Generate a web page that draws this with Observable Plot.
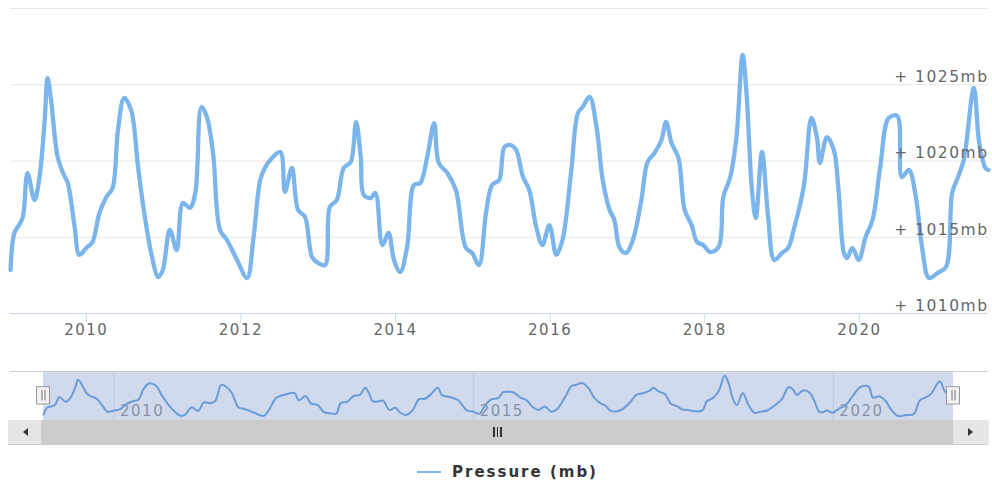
<!DOCTYPE html>
<html><head><meta charset="utf-8">
<script src="https://cdn.jsdelivr.net/npm/d3@7"></script>
<script src="https://cdn.jsdelivr.net/npm/@observablehq/plot@0.6"></script>
<style>
html,body{margin:0;padding:0;background:#fff;}
#wrap{position:relative;width:992px;height:486px;font-family:"DejaVu Sans",sans-serif;overflow:hidden;background:#fff}
#main{position:absolute;left:0;top:0}
#nav{position:absolute;left:0;top:360px}
.abs{position:absolute}
#navtop{left:10px;top:371px;width:978px;height:1px;background:#cccccc}
#sb{left:8px;top:420px;width:980px;height:24px;border-bottom:1px solid #cccccc;background:#f2f2f2}
#btnL{left:8px;top:420px;width:33px;height:24px;background:#e6e6e6;border-right:1px solid #cccccc}
#btnR{left:952px;top:420px;width:36px;height:24px;background:#e6e6e6;border-left:1px solid #cccccc}
#thumb{left:42px;top:420px;width:910px;height:24px;background:#cccccc}
.arrL{width:0;height:0;border-top:4px solid transparent;border-bottom:4px solid transparent;border-right:5px solid #333}
.arrR{width:0;height:0;border-top:4px solid transparent;border-bottom:4px solid transparent;border-left:5px solid #333}
.grip{width:1.5px;height:10px;background:#333;top:427px}
#legend{left:417px;top:461px;height:22px;display:flex;align-items:center;font-family:"DejaVu Sans",sans-serif}
#legend .sym{width:24px;height:2.5px;background:#7cb5ec;margin-right:11px}
#legend .lab{font-weight:bold;font-size:15px;letter-spacing:2px;color:#333}
</style></head>
<body><div id="wrap">
<div id="main"></div>
<div class="abs" id="sb"></div>
<div class="abs" id="thumb"></div>
<div class="abs" id="btnL"></div>
<div class="abs" id="btnR"></div>
<div class="abs arrL" style="left:23px;top:428px"></div>
<div class="abs arrR" style="left:968px;top:428px"></div>
<div class="abs grip" style="left:493px"></div>
<div class="abs grip" style="left:496.5px"></div>
<div class="abs grip" style="left:500px"></div>
<div class="abs" id="navtop"></div>
<div id="nav"></div>
<div class="abs" id="legend"><div class="sym"></div><div class="lab">Pressure (mb)</div></div>
</div>
<script>
const years = [
2009.02,2009.07,2009.13,2009.18,2009.24,2009.33,2009.39,2009.46,2009.50,2009.54,
2009.63,2009.70,2009.76,2009.85,2009.91,2010.00,2010.08,2010.17,2010.26,2010.34,
2010.41,2010.49,2010.58,2010.67,2010.75,2010.84,2010.93,2010.99,2011.08,2011.17,
2011.25,2011.34,2011.41,2011.49,2011.56,2011.64,2011.73,2011.82,2011.95,2012.08,
2012.16,2012.25,2012.31,2012.38,2012.51,2012.57,2012.66,2012.74,2012.83,2012.92,
2013.00,2013.09,2013.15,2013.24,2013.33,2013.42,2013.49,2013.55,2013.59,2013.68,
2013.74,2013.83,2013.91,2013.98,2014.06,2014.15,2014.24,2014.32,2014.41,2014.50,
2014.56,2014.67,2014.78,2014.91,2014.99,2015.08,2015.17,2015.25,2015.34,2015.41,
2015.49,2015.56,2015.65,2015.73,2015.82,2015.90,2015.99,2016.08,2016.16,2016.27,
2016.36,2016.42,2016.51,2016.60,2016.68,2016.77,2016.83,2016.90,2016.98,2017.07,
2017.18,2017.26,2017.35,2017.44,2017.50,2017.57,2017.66,2017.74,2017.83,2017.90,
2017.98,2018.07,2018.18,2018.24,2018.33,2018.41,2018.49,2018.54,2018.61,2018.66,
2018.74,2018.82,2018.90,2019.00,2019.08,2019.15,2019.28,2019.38,2019.45,2019.49,
2019.58,2019.67,2019.73,2019.80,2019.84,2019.91,2019.99,2020.08,2020.17,2020.27,
2020.38,2020.49,2020.55,2020.64,2020.73,2020.81,2020.90,2021.01,2021.12,2021.20,
2021.27,2021.35,2021.48,2021.55,2021.63,2021.67];
const pressure = [
1012.85,1015.28,1015.8,1016.33,1019.21,1017.44,1018.75,1022.49,1025.44,1024.2,
1020.26,1019.21,1018.56,1015.67,1013.84,1014.3,1014.69,1016.59,1017.64,1018.23,
1022.03,1024.13,1023.34,1019.61,1016.59,1013.97,1012.39,1012.85,1015.48,1014.16,
1017.25,1016.92,1017.9,1023.54,1022.89,1020.52,1015.48,1014.82,1013.51,1012.33,
1014.82,1018.75,1019.54,1020.07,1020.59,1017.97,1019.54,1016.79,1016.33,1013.7,
1013.31,1013.18,1016.98,1017.44,1019.54,1019.93,1022.56,1020.26,1017.77,1017.57,
1017.9,1014.49,1015.28,1013.51,1012.72,1014.36,1018.43,1018.56,1020.26,1022.49,
1019.87,1019.21,1018.1,1014.3,1013.97,1013.18,1016.59,1018.43,1018.75,1020.92,
1021.05,1020.72,1018.95,1018.1,1015.67,1014.49,1015.8,1013.84,1014.82,1019.21,
1023.15,1023.54,1024.2,1022.23,1018.75,1016.79,1016.13,1014.3,1013.97,1014.82,
1017.44,1019.93,1020.52,1021.38,1022.56,1021.18,1020.2,1016.79,1015.8,1014.69,
1014.49,1014.03,1014.36,1017.64,1018.95,1021.57,1026.95,1024.46,1018.1,1016.26,
1020.59,1016.33,1013.51,1013.97,1014.3,1015.48,1018.3,1022.82,1021.57,1019.87,
1021.57,1020.72,1018.1,1013.97,1013.64,1014.3,1013.51,1015.02,1016.13,1019.61,
1022.82,1022.95,1018.95,1019.41,1017.64,1014.36,1012.33,1012.66,1013.05,1017.9,
1018.89,1020.07,1024.79,1021.18,1019.54,1019.41];
const xTicks = [2010, 2012, 2014, 2016, 2018, 2020];
const yLabels = [1010, 1015, 1020, 1025];
const yGrid = [1015, 1020, 1025, 1030];
const yDomain = [1010, 1030];
const navTicks = [2010, 2015, 2020];
const seriesName = "Pressure (mb)";

const data = years.map((t, i) => ({t, v: pressure[i]}));
const xDomain = d3.extent(years);
const lineColor = "#7cb5ec";

const main = Plot.plot({
  width: 992, height: 345,
  marginLeft: 10, marginRight: 4, marginTop: 8, marginBottom: 32,
  x: {domain: xDomain, axis: null},
  y: {domain: yDomain, axis: null},
  style: {fontFamily: "DejaVu Sans, sans-serif", fontSize: "15px", letterSpacing: "1.5px", background: "transparent", overflow: "visible"},
  marks: [
    Plot.gridY(yGrid, {stroke: "#e6e6e6", strokeOpacity: 1}),
    Plot.ruleY([yDomain[0]], {stroke: "#ccd6eb"}),
    Plot.axisX({ticks: xTicks, tickFormat: d => String(d), tickSize: 10, tickPadding: 1, stroke: "#ccd6eb", fill: "#666", fontSize: 15, label: null}),
    Plot.line(data, {x: "t", y: "v", stroke: lineColor, strokeWidth: 4.3, curve: "catmull-rom"}),
    Plot.text(yLabels, {y: d => d, text: d => `+ ${d}mb`, frameAnchor: "right", textAnchor: "end", dy: -7.5, fill: "#666", fontSize: 15.5})
  ]
});
document.getElementById("main").appendChild(main);

const nav = Plot.plot({
  width: 992, height: 62,
  marginLeft: 43, marginRight: 39, marginTop: 15, marginBottom: 6.5,
  x: {domain: xDomain, axis: null},
  y: {domain: d3.extent(pressure), axis: null},
  style: {fontFamily: "DejaVu Sans, sans-serif", fontSize: "15px", letterSpacing: "1.5px", background: "transparent", overflow: "visible"},
  marks: [
    Plot.ruleX(navTicks, {stroke: "#e6e6e6", insetTop: -3, insetBottom: -4.5}),
    Plot.text(navTicks, {x: d => d, text: d => String(d), frameAnchor: "bottom", textAnchor: "start", lineAnchor: "bottom", dx: 6, fill: "#999", fontSize: 15}),
    Plot.line(data, {x: "t", y: "v", stroke: "#6aa6e4", strokeWidth: 2, curve: "catmull-rom"}),
    Plot.rect([xDomain], {x1: d => d[0], x2: d => d[1], fill: "rgb(102,133,194)", fillOpacity: 0.3, insetTop: -3, insetBottom: -4.5}),
    Plot.rect(xDomain, {x1: d => d, x2: d => d, insetLeft: -6.5, insetRight: -6.5, insetTop: 11.7, insetBottom: 11.5, fill: "#f2f2f2", stroke: "#999"}),
    Plot.ruleX(xDomain, {x: d => d, dx: -1.5, insetTop: 15, insetBottom: 15, stroke: "#777"}),
    Plot.ruleX(xDomain, {x: d => d, dx: 1.5, insetTop: 15, insetBottom: 15, stroke: "#777"})
  ]
});
document.getElementById("nav").appendChild(nav);
document.querySelector("#legend .lab").textContent = seriesName;
</script>
</body></html>
